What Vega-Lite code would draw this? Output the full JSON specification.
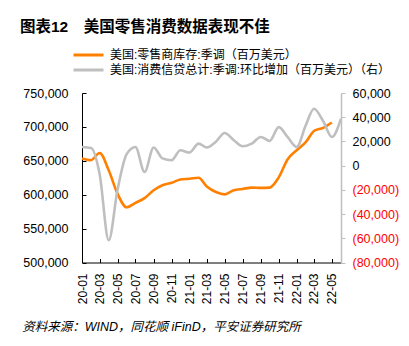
{
  "$schema": "https://vega.github.io/schema/vega-lite/v6.json",
  "width": 259,
  "height": 169.5,
  "autosize": {"type": "none"},
  "padding": {"left": 82, "top": 93, "right": 68, "bottom": 83.5},
  "background": "white",
  "config": {
    "font": "'Liberation Sans', 'Noto Sans CJK SC', sans-serif",
    "view": {"stroke": null},
    "axis": {"grid": false, "labelColor": "black", "labelFont": "'Liberation Sans', 'Noto Sans CJK SC', sans-serif"}
  },
  "title": {
    "text": "图表12　美国零售消费数据表现不佳",
    "anchor": "start",
    "frame": "group",
    "dx": -62,
    "fontSize": 15.5,
    "fontWeight": "bold",
    "color": "black",
    "font": "'Liberation Sans', 'Noto Sans CJK SC', sans-serif",
    "offset": 14
  },
  "data": {
    "values": [
      {"date": "2020-01-01", "inv": 653500, "credit": 15400},
      {"date": "2020-02-01", "inv": 651000, "credit": 14500},
      {"date": "2020-03-01", "inv": 661500, "credit": -7000},
      {"date": "2020-04-01", "inv": 636000, "credit": -61600},
      {"date": "2020-05-01", "inv": 601500, "credit": -20000},
      {"date": "2020-06-01", "inv": 581500, "credit": 9500},
      {"date": "2020-07-01", "inv": 588000, "credit": 15400},
      {"date": "2020-08-01", "inv": 595000, "credit": -5200},
      {"date": "2020-09-01", "inv": 606500, "credit": 15000},
      {"date": "2020-10-01", "inv": 614000, "credit": 6000},
      {"date": "2020-11-01", "inv": 617500, "credit": 4500},
      {"date": "2020-12-01", "inv": 622500, "credit": 12700},
      {"date": "2021-01-01", "inv": 623500, "credit": 10800},
      {"date": "2021-02-01", "inv": 625000, "credit": 18200},
      {"date": "2021-03-01", "inv": 612000, "credit": 15000},
      {"date": "2021-04-01", "inv": 604000, "credit": 19800},
      {"date": "2021-05-01", "inv": 600500, "credit": 27000},
      {"date": "2021-06-01", "inv": 606500, "credit": 21000},
      {"date": "2021-07-01", "inv": 608500, "credit": 16000},
      {"date": "2021-08-01", "inv": 610500, "credit": 18200},
      {"date": "2021-09-01", "inv": 610000, "credit": 23700},
      {"date": "2021-10-01", "inv": 610500, "credit": 20400},
      {"date": "2021-11-01", "inv": 625500, "credit": 31800},
      {"date": "2021-12-01", "inv": 652000, "credit": 23700},
      {"date": "2022-01-01", "inv": 665500, "credit": 15400},
      {"date": "2022-02-01", "inv": 677500, "credit": 33300},
      {"date": "2022-03-01", "inv": 694000, "credit": 47000},
      {"date": "2022-04-01", "inv": 698500, "credit": 36900},
      {"date": "2022-05-01", "inv": 706500, "credit": 23700},
      {"date": "2022-06-01", "inv": null, "credit": 38900}
    ]
  },
  "encoding": {
    "x": {
      "field": "date",
      "type": "temporal",
      "scale": {
        "type": "utc",
        "domain": [
          {"year": 2020, "month": 1, "date": 1, "utc": true},
          {"year": 2022, "month": 6, "date": 1, "utc": true}
        ]
      },
      "axis": {
        "tickCount": {"interval": "month", "step": 2},
        "format": "%y-%m",
        "labelAngle": 270,
        "labelAlign": "right",
        "labelBaseline": "middle",
        "labelFontSize": 12,
        "labelOverlap": false,
        "labelFlush": false,
        "labelPadding": 14.5,
        "tickSize": -4,
        "tickColor": "black",
        "domainColor": "black",
        "title": "资料来源：WIND，同花顺 iFinD，平安证券研究所",
        "titleFontSize": 12.5,
        "titleFontStyle": "italic",
        "titleFontWeight": "normal",
        "titleColor": "black",
        "titleAlign": "left",
        "titleBaseline": "middle",
        "titleAngle": 0,
        "titleX": -60.3,
        "titleY": 64.4
      }
    }
  },
  "layer": [
    {
      "mark": {"type": "line", "interpolate": "monotone", "strokeWidth": 2.6},
      "encoding": {
        "y": {
          "field": "inv",
          "type": "quantitative",
          "scale": {"domain": [500000, 750000], "nice": false, "zero": false},
          "axis": {
            "orient": "left",
            "title": null,
            "values": [500000, 550000, 600000, 650000, 700000, 750000],
            "format": ",.0f",
            "labelFontSize": 12.5,
            "tickSize": -4,
            "labelPadding": 18,
            "tickColor": "black",
            "domainColor": "black"
          }
        },
        "color": {
          "datum": "美国:零售商库存:季调（百万美元）",
          "type": "nominal",
          "scale": {
            "domain": ["美国:零售商库存:季调（百万美元）", "美国:消费信贷总计:季调:环比增加（百万美元）（右）"],
            "range": ["#FF8000", "#BFBFBF"]
          },
          "legend": {
            "title": null,
            "orient": "none",
            "legendX": -10,
            "legendY": -44,
            "symbolType": "stroke",
            "symbolSize": 900,
            "symbolStrokeWidth": 3,
            "clipHeight": 12,
            "labelFontSize": 12,
            "labelOffset": 5,
            "labelLimit": 400,
            "labelColor": "black",
            "rowPadding": 3,
            "padding": 0
          }
        }
      }
    },
    {
      "mark": {"type": "line", "interpolate": "monotone", "strokeWidth": 2.6},
      "encoding": {
        "y": {
          "field": "credit",
          "type": "quantitative",
          "scale": {"domain": [-80000, 60000], "nice": false, "zero": false},
          "axis": {
            "orient": "right",
            "title": null,
            "values": [-80000, -60000, -40000, -20000, 0, 20000, 40000, 60000],
            "labelExpr": "datum.value < 0 ? '(' + format(-datum.value, ',') + ')' : format(datum.value, ',')",
            "labelColor": {"condition": {"test": "datum.value < 0", "value": "#FF0000"}, "value": "black"},
            "labelFontSize": 12.5,
            "tickSize": 4,
            "labelPadding": 7,
            "tickColor": "#BFBFBF",
            "domainColor": "#BFBFBF",
            "domainWidth": 1.5
          }
        },
        "color": {"datum": "美国:消费信贷总计:季调:环比增加（百万美元）（右）", "type": "nominal"}
      }
    },
    {
      "data": {"values": [{}]},
      "mark": {"type": "rule", "x": -62, "x2": 325, "y": -81.3, "color": "black", "strokeWidth": 1.2},
      "encoding": {}
    },
    {
      "data": {"values": [{}]},
      "mark": {"type": "rule", "x": -62, "x2": 325, "y": -59.5, "color": "black", "strokeWidth": 1.6},
      "encoding": {}
    },
    {
      "data": {"values": [{}]},
      "mark": {"type": "rule", "x": -62, "x2": 325, "y": 223.7, "color": "black", "strokeWidth": 1.2},
      "encoding": {}
    },
    {
      "data": {"values": [{}]},
      "mark": {"type": "rule", "x": -62, "x2": 325, "y": 244.7, "color": "black", "strokeWidth": 1.2},
      "encoding": {}
    }
  ],
  "resolve": {"scale": {"y": "independent"}}
}
